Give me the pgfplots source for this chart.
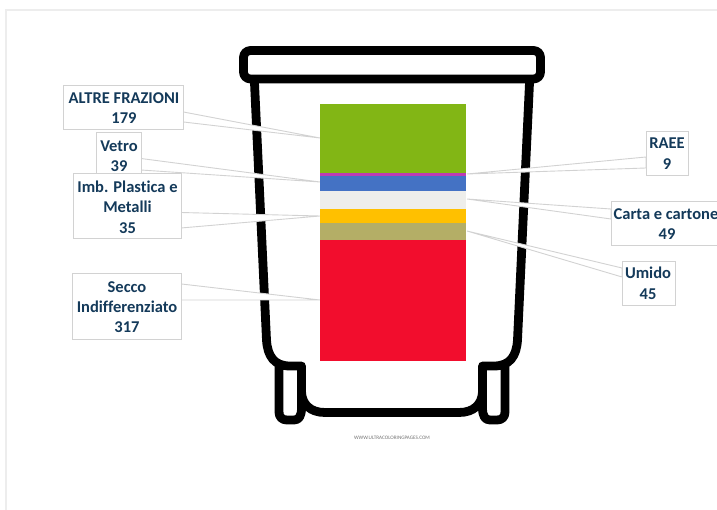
\documentclass[border=0pt]{standalone}
\usepackage{pgfplots}
\pgfplotsset{compat=1.18}
\usepackage{fontspec}
\usetikzlibrary{patterns}
\setmainfont[Ligatures=NoCommon]{Carlito}
\definecolor{txt}{HTML}{143A5A}
\definecolor{bx}{HTML}{D2D2D2}
\definecolor{cAltre}{HTML}{82B615}
\definecolor{cRaee}{HTML}{BC3CB4}
\definecolor{cVetro}{HTML}{4472C4}
\definecolor{cCarta}{HTML}{EEEEEB}
\definecolor{cImb}{HTML}{FFC000}
\definecolor{cUmido}{HTML}{B4AE66}
\definecolor{cSecco}{HTML}{F20D2D}
\begin{document}
\begin{tikzpicture}
\path[use as bounding box] (0pt,0pt) rectangle (717pt,-510pt);
\clip (0pt,0pt) rectangle (717pt,-510pt);
\begin{scope}[x=1pt,y=-1pt]
\draw[line width=1.6pt,draw=black!7] (6,510) -- (6,10) -- (717,10);
% bin
\begin{scope}[line width=8.8pt,line join=round,line cap=round]
\draw[rounded corners=7pt] (243.5,50.5) rectangle (540.5,79);
\draw (254.5,83) -- (266.5,340) .. controls (267.5,356) and (274,366) .. (290,366) -- (301.5,366) -- (301.5,392) .. controls (302,404) and (310,412.5) .. (325,412.5) -- (459,412.5) .. controls (474,412.5) and (482,404) .. (482.5,392) -- (482.5,366) -- (494,366) .. controls (510,366) and (516.5,356) .. (517.5,340) -- (529.5,83);
\draw (279,366) -- (279,412) .. controls (279,417) and (282,420) .. (287,420) -- (294,420) .. controls (299,420) and (301.5,416) .. (301.5,408) -- (301.5,392);
\draw (505,366) -- (505,412) .. controls (505,417) and (502,420) .. (497,420) -- (490,420) .. controls (485,420) and (482.5,416) .. (482.5,408) -- (482.5,392);
\end{scope}
\node[text=black!55,font=\fontsize{5.2}{6}\selectfont] at (392,438) {WWW.ULTRACOLORINGPAGES.COM};
% wedges
\foreach \a/\b/\c in {{(183.5,112)}/{(320,138)}/{(183.5,122)},
  {(141,158.5)}/{(320,182)}/{(141,170)},
  {(181,212.5)}/{(320,216)}/{(181,228)},
  {(181.5,284)}/{(320,300)}/{(181.5,300)},
  {(646,157)}/{(467,174)}/{(646,168)},
  {(611,209)}/{(467,199)}/{(611,219)},
  {(622,268)}/{(467,231)}/{(622,277)}}{
  \fill[white,draw=bx,line width=0.9pt] \a -- \b -- \c -- cycle;}
\end{scope}
% stacked bar
\begin{axis}[at={(320pt,-360.5pt)},anchor=south west,scale only axis,
  width=146pt,height=256pt,xmin=-0.5,xmax=0.5,ymin=0,ymax=673,
  hide axis,ybar stacked,bar width=146pt]
\addplot[fill=cSecco,draw=none] coordinates {(0,317)};
\addplot[fill=cUmido,draw=none] coordinates {(0,45)};
\addplot[fill=cImb,draw=none] coordinates {(0,35)};
\addplot[fill=cCarta,draw=none] coordinates {(0,49)};
\addplot[fill=cVetro,draw=none] coordinates {(0,39)};
\addplot[fill=cRaee,draw=none] coordinates {(0,9)};
\addplot[fill=cAltre,draw=none] coordinates {(0,179)};
\end{axis}
\begin{scope}[x=1pt,y=-1pt]
% boxes
\tikzset{bxs/.style={fill=white,draw=bx,line width=0.9pt},
  lb/.style={text=txt,font=\fontsize{16.5}{18}\selectfont\bfseries,inner sep=0pt}}
\path[bxs] (63.5,85) rectangle (183.5,129.5);
\path[bxs] (96.5,132) rectangle (141,175);
\path[bxs] (73,173) rectangle (181,238);
\path[bxs] (72.5,273) rectangle (181.5,339);
\path[bxs] (646,131) rectangle (688,175);
\path[bxs] (611,201) rectangle (730,245);
\path[bxs] (622,261) rectangle (675,305);
\foreach \x/\y/\t in {124/98/ALTRE FRAZIONI,124/118/179,119/146/Vetro,119/166/39,
 127.5/187/Imb. Plastica e,127.5/207/Metalli,127.5/228/35,
 127/287/Secco,127/307/Indifferenziato,127/327/317,
 667/143/RAEE,667/164/9,666/214/Carta e cartone,667/234/49,648/273/Umido,648/294/45}{
 \node[lb] at (\x,\y) {\t};}
\end{scope}
\end{tikzpicture}
\end{document}
